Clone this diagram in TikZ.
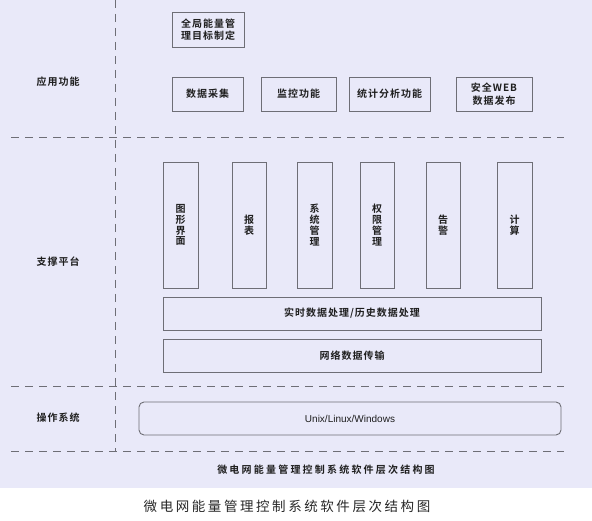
\documentclass[tikz,border=0pt]{standalone}
\usepackage{fontspec}
\setmainfont{Noto Sans CJK SC}[BoldFont={Noto Sans CJK SC Bold}]
\newfontfamily\latinfont{Liberation Sans}
\definecolor{bgcol}{HTML}{E9E9F9}
\definecolor{linecol}{HTML}{6E6E76}
\definecolor{txtcol}{HTML}{1E1E1E}
\tikzset{
  box/.style={draw=linecol, line width=0.9pt, fill=bgcol, inner sep=0pt, align=center,
    text=txtcol, font=\fontsize{10}{12.5}\selectfont\bfseries\addfontfeature{LetterSpace=10}},
  vbox/.style={box, font=\fontsize{10}{10.8}\selectfont\bfseries},
  sep/.style={draw=linecol, line width=0.9pt, dash pattern=on 8pt off 6pt},
  lbl/.style={text=txtcol, font=\fontsize{10}{12}\selectfont\bfseries\addfontfeature{LetterSpace=10}}
}
\begin{document}
\begin{tikzpicture}[x=1pt,y=-1pt]
\useasboundingbox (0,0) rectangle (592,521);
\fill[bgcol] (0,0) rectangle (592,488);
% separators
\coordinate (vt) at (115,0);
\coordinate (vb) at (115,451);
\coordinate (h1l) at (11,137);
\coordinate (h1r) at (564,137);
\coordinate (h2l) at (11,386);
\coordinate (h2r) at (564,386);
\coordinate (h3l) at (11,451);
\coordinate (h3r) at (564,451);
\draw[sep] (vt) -- (vb);
\draw[sep] (h1l) -- (h1r);
\draw[sep] (h2l) -- (h2r);
\draw[sep] (h3l) -- (h3r);
% layer labels
\node[lbl] (l1) at (58,82) {应用功能};
\node[lbl] (l2) at (58,262) {支撑平台};
\node[lbl] (l3) at (58,418) {操作系统};
% application boxes
\node[box, minimum width=72pt, minimum height=35pt] (goal) at (208,29.5) {全局能量管\\理目标制定};
\node[box, minimum width=71pt, minimum height=34pt] (acq) at (207.5,94) {数据采集};
\node[box, minimum width=75pt, minimum height=34pt] (mon) at (298.5,94) {监控功能};
\node[box, minimum width=81pt, minimum height=34pt] (stat) at (389.5,94) {统计分析功能};
\node[box, minimum width=76pt, minimum height=34pt] (web) at (494,94) {安全WEB\\数据发布};
% support vertical boxes
\node[vbox, minimum width=35pt, minimum height=126pt] (gui) at (180.5,225) {图\\形\\界\\面};
\node[vbox, minimum width=34pt, minimum height=126pt] (rep) at (249,225) {报\\表};
\node[vbox, minimum width=35pt, minimum height=126pt] (sys) at (314.5,225) {系\\统\\管\\理};
\node[vbox, minimum width=34pt, minimum height=126pt] (perm) at (377,225) {权\\限\\管\\理};
\node[vbox, minimum width=34pt, minimum height=126pt] (alarm) at (443,225) {告\\警};
\node[vbox, minimum width=35pt, minimum height=126pt] (calc) at (514.5,225) {计\\算};
% horizontal boxes
\node[box, minimum width=378pt, minimum height=33pt] (proc) at (352,313.5) {实时数据处理/历史数据处理};
\node[box, minimum width=378pt, minimum height=33pt] (net) at (352,355.5) {网络数据传输};
% OS
\node[box, rounded corners=5pt, minimum width=422pt, minimum height=33pt,
  font=\fontsize{10}{12}\latinfont] (os) at (350,418.5) {Unix/Linux/Windows};
% titles
\node[lbl, font=\fontsize{10}{12}\selectfont\bfseries\addfontfeature{LetterSpace=22}] (title) at (326,470) {微电网能量管理控制系统软件层次结构图};
\node[text=black!85, font=\fontsize{13.5}{16}\selectfont\addfontfeature{LetterSpace=19}] (cap) at (287,506) {微电网能量管理控制系统软件层次结构图};
\end{tikzpicture}
\end{document}
